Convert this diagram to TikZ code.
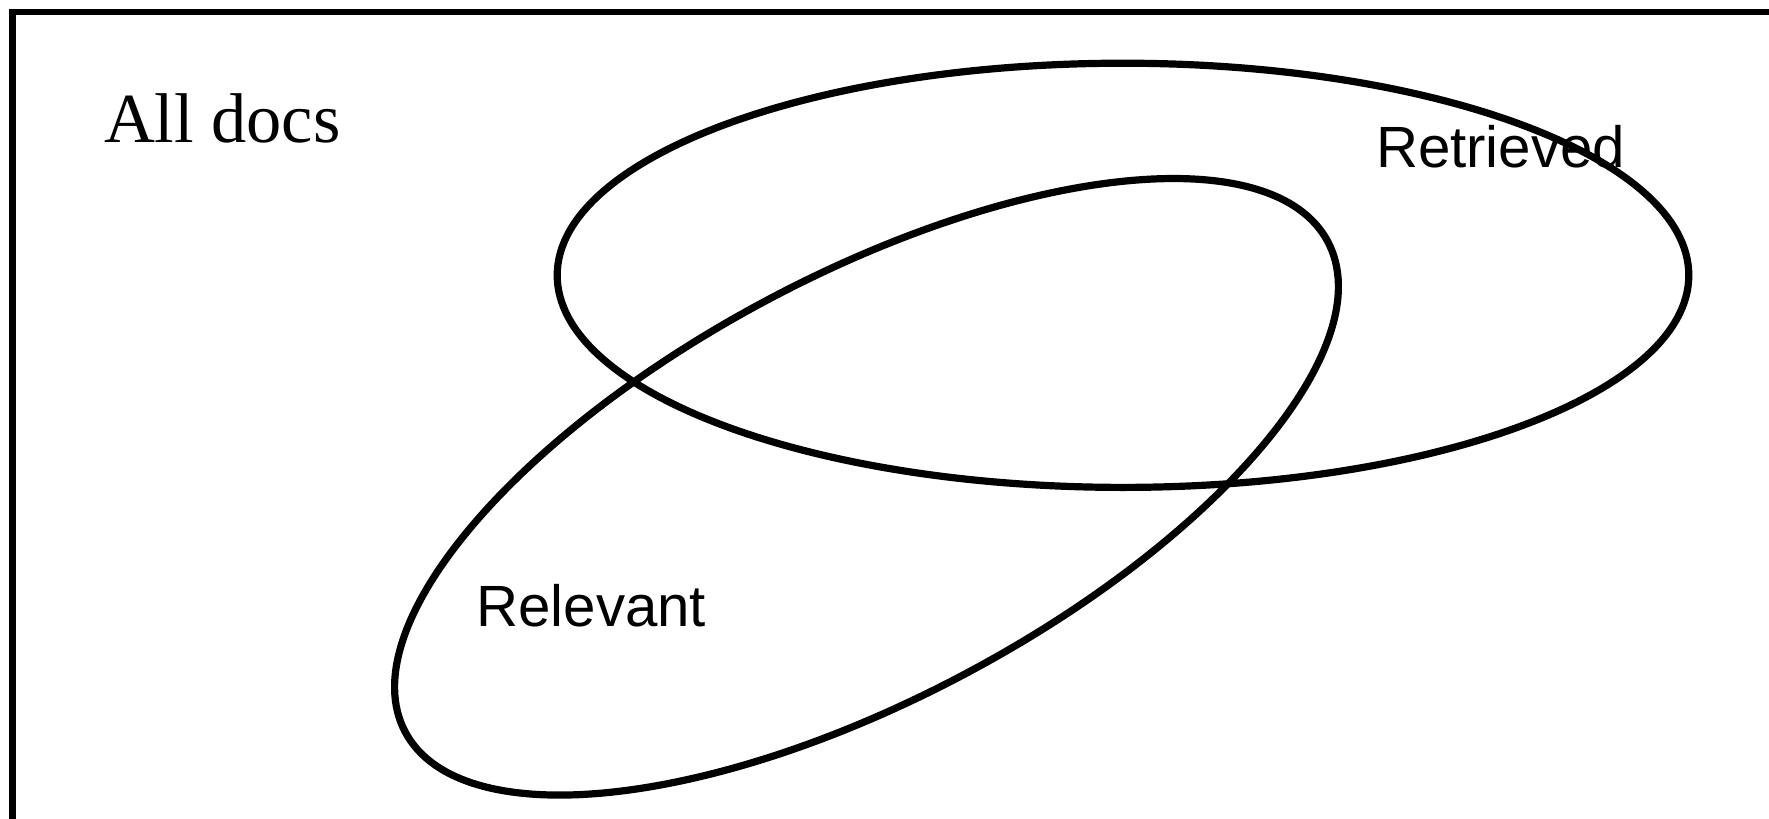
\documentclass[tikz,border=0pt]{standalone}
\usepackage{fontspec}
\newfontfamily\tnrfont{Liberation Serif}
\newfontfamily\arialfont{Liberation Sans}
\begin{document}
\begin{tikzpicture}[x=0.5pt,y=-0.5pt,
  setline/.style={draw=black,line width=3.6pt},
  lbl/.style={inner sep=0pt,outer sep=0pt,anchor=base west}]
\useasboundingbox (0,0) rectangle (1769,819);
\clip (0,0) rectangle (1769,819);
\fill[white] (0,0) rectangle (1769,819);
% frame (right and bottom edges lie beyond the picture)
\draw[line width=3.4pt] (12.5,12) rectangle (1800,860);
% labels
\node[lbl] (alldocs) at (104,142.5) {\tnrfont\fontsize{35.2pt}{40pt}\selectfont All docs};
\node[lbl] (retrieved) at (1376,167) {\arialfont\fontsize{29.1pt}{34pt}\selectfont Retrieved};
\node[lbl] (relevant) at (476.5,626) {\arialfont\fontsize{29.1pt}{34pt}\selectfont Relevant};
% sets
\draw[setline] (1123,275.3) ellipse [x radius=565.8, y radius=212.1];
\draw[setline, rotate around={28:(866.5,486.8)}] (866.5,486.8) ellipse [x radius=522.4, y radius=211.5];
\end{tikzpicture}
\end{document}
